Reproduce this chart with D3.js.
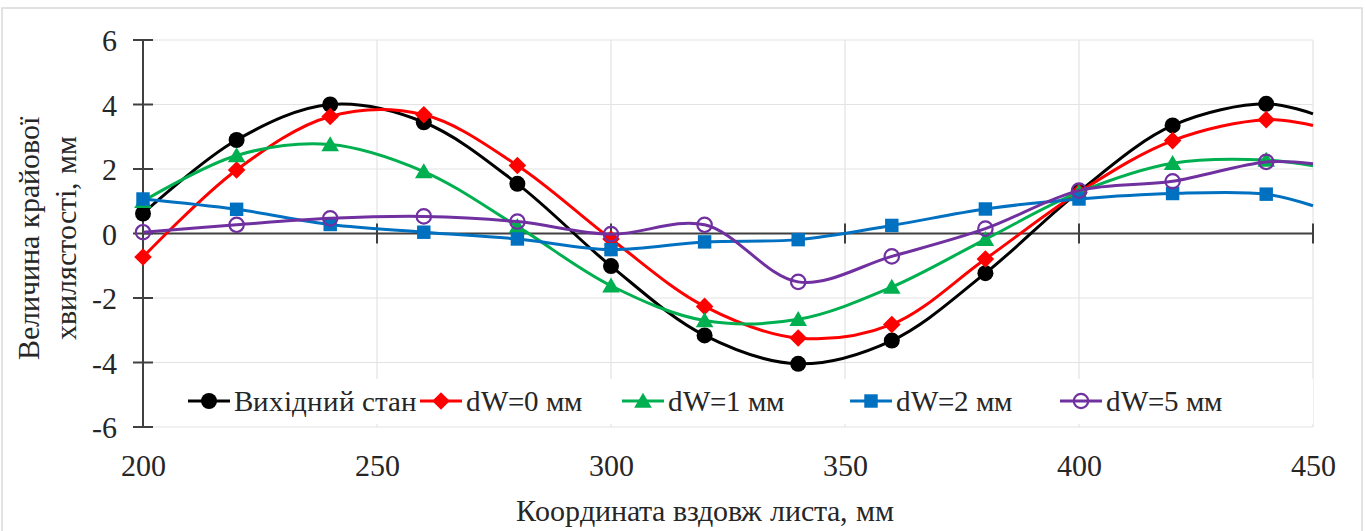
<!DOCTYPE html>
<html>
<head>
<meta charset="utf-8">
<script src="https://cdn.jsdelivr.net/npm/d3@7"></script>
<style>
  @font-face {
    font-family: "ChartSerif";
    src: local("Liberation Serif"), local("LiberationSerif"), local("LiberationSerif-Regular");
  }
  html, body { margin: 0; padding: 0; background: #fff; }
  svg { display: block; }
</style>
</head>
<body>
<svg id="chart" width="1366" height="531"></svg>
<script>
// Positions along the sheet (mm)
const coords = [200, 220, 240, 260, 280, 300, 320, 340, 360, 380, 400, 420, 440, 450];

// Edge waviness for each case (mm)
const initialState = [0.62, 2.90, 4.00, 3.45, 1.54, -1.01, -3.16, -4.04, -3.32, -1.23, 1.30, 3.35, 4.02, 3.71];
const dW0 = [-0.73, 1.97, 3.63, 3.68, 2.11, -0.17, -2.26, -3.24, -2.82, -0.79, 1.28, 2.88, 3.53, 3.35];
const dW1 = [1.00, 2.42, 2.76, 1.92, 0.22, -1.62, -2.70, -2.66, -1.66, -0.18, 1.28, 2.18, 2.28, 2.10];
const dW2 = [1.07, 0.75, 0.28, 0.04, -0.17, -0.50, -0.26, -0.19, 0.25, 0.76, 1.07, 1.24, 1.22, 0.86];
const dW5 = [0.04, 0.27, 0.47, 0.53, 0.37, -0.02, 0.27, -1.50, -0.71, 0.15, 1.33, 1.62, 2.22, 2.16];

const seriesNames = ["Вихідний стан", "dW=0 мм", "dW=1 мм", "dW=2 мм", "dW=5 мм"];
const seriesColors = ["#000000", "#ff0000", "#00b050", "#0070c0", "#7030a0"];
const seriesMarkers = ["circle", "diamond", "triangle", "square", "ring"];
const seriesValues = [initialState, dW0, dW1, dW2, dW5];

const xTicks = [200, 250, 300, 350, 400, 450];
const yTicks = [-6, -4, -2, 0, 2, 4, 6];

const xTitle = "Координата вздовж листа, мм";
const yTitleLines = ["Величина крайової", "хвилястості, мм"];

const FONT = "ChartSerif, 'Liberation Serif', serif";
const TEXT_COLOR = "#262626";

const svg = d3.select("#chart");
const plot = { left: 143, right: 1313, top: 40, bottom: 427 };

const x = d3.scaleLinear().domain([200, 450]).range([plot.left, plot.right]);
const y = d3.scaleLinear().domain([-6, 6]).range([plot.bottom, plot.top]);

function styleText(sel, size) {
  return sel.attr("font-family", FONT).attr("font-size", size).attr("fill", TEXT_COLOR);
}

// outer chart frame
svg.append("rect")
  .attr("x", 2).attr("y", 8).attr("width", 1360).attr("height", 600)
  .attr("fill", "#fff").attr("stroke", "#d9d9d9").attr("stroke-width", 1.5);

// gridlines
const grid = svg.append("g");
grid.selectAll(".gy").data(yTicks.filter(d => d !== 0)).join("line")
  .attr("x1", plot.left).attr("x2", plot.right)
  .attr("y1", d => y(d)).attr("y2", d => y(d))
  .attr("stroke", "#e3e3e3").attr("stroke-width", 1.2);
grid.selectAll(".gx").data(xTicks.filter(d => d !== 200)).join("line")
  .attr("x1", d => x(d)).attr("x2", d => x(d))
  .attr("y1", plot.top).attr("y2", plot.bottom)
  .attr("stroke", "#e3e3e3").attr("stroke-width", 1.2);

// y axis at x = 200 with ticks crossing the line
const yAxis = d3.axisLeft(y).tickValues(yTicks).tickSize(0).tickFormat(d => String(d));
const yAxisG = svg.append("g").attr("transform", `translate(${x(200)},0)`).call(yAxis);
yAxisG.attr("font-family", FONT).attr("font-size", 30);
yAxisG.select(".domain").remove();
styleText(yAxisG.selectAll(".tick text").attr("x", -26).attr("dy", "0.35em"), 30);
svg.append("line").attr("x1", x(200)).attr("x2", x(200)).attr("y1", plot.top).attr("y2", plot.bottom)
  .attr("stroke", "#404040").attr("stroke-width", 2);
svg.selectAll(".ytick").data(yTicks).join("line")
  .attr("x1", x(200) - 10).attr("x2", x(200) + 10)
  .attr("y1", d => y(d)).attr("y2", d => y(d))
  .attr("stroke", "#404040").attr("stroke-width", 2);

// x axis line at y = 0, labels below the plot
svg.append("line").attr("x1", plot.left).attr("x2", plot.right).attr("y1", y(0)).attr("y2", y(0))
  .attr("stroke", "#404040").attr("stroke-width", 2);
svg.selectAll(".xtick").data(xTicks).join("line")
  .attr("x1", d => x(d)).attr("x2", d => x(d))
  .attr("y1", y(0) - 10).attr("y2", y(0) + 10)
  .attr("stroke", "#404040").attr("stroke-width", 2);
const xAxis = d3.axisBottom(x).tickValues(xTicks).tickSize(0).tickFormat(d => String(d));
const xAxisG = svg.append("g").attr("transform", `translate(0,${plot.bottom})`).call(xAxis);
xAxisG.attr("font-family", FONT).attr("font-size", 30);
xAxisG.select(".domain").remove();
styleText(xAxisG.selectAll(".tick text").attr("y", 38).attr("dy", "0.35em"), 30);

// axis titles
styleText(svg.append("text").attr("x", 705).attr("y", 521).attr("text-anchor", "middle"), 30).text(xTitle);
const yt = svg.append("g").attr("transform", "translate(0,238) rotate(-90)");
styleText(yt.selectAll("text").data(yTitleLines).join("text")
  .attr("x", 0).attr("y", (d, i) => 39 + i * 37)
  .attr("text-anchor", "middle"), 30).text(d => d);

// marker drawing
function drawMarker(g, type, color, size) {
  const s = size;
  if (type === "circle") {
    g.append("circle").attr("r", s * 0.5).attr("fill", color);
  } else if (type === "diamond") {
    g.append("path").attr("d", `M0,${-s*0.55}L${s*0.55},0L0,${s*0.55}L${-s*0.55},0Z`).attr("fill", color);
  } else if (type === "triangle") {
    g.append("path").attr("d", `M0,${-s*0.52}L${s*0.55},${s*0.42}L${-s*0.55},${s*0.42}Z`).attr("fill", color);
  } else if (type === "square") {
    g.append("rect").attr("x", -s*0.42).attr("y", -s*0.42).attr("width", s*0.84).attr("height", s*0.84).attr("fill", color);
  } else if (type === "ring") {
    g.append("circle").attr("r", s * 0.45).attr("fill", "none").attr("stroke", color).attr("stroke-width", 2.2);
  }
}

// series lines and markers
const line = d3.line().x(d => x(d[0])).y(d => y(d[1])).curve(d3.curveCatmullRom.alpha(0.5));
seriesValues.forEach((vals, i) => {
  const pts = coords.map((c, j) => [c, vals[j]]);
  const g = svg.append("g");
  g.append("path").attr("d", line(pts)).attr("fill", "none")
    .attr("stroke", seriesColors[i]).attr("stroke-width", 3);
  pts.filter(p => p[0] < 450).forEach(p => {
    const m = g.append("g").attr("transform", `translate(${x(p[0])},${y(p[1])})`);
    drawMarker(m, seriesMarkers[i], seriesColors[i], 16);
  });
});

// legend
const legendY = 401;
svg.append("rect").attr("x", 168).attr("y", 379).attr("width", plot.right - 168).attr("height", 45)
  .attr("fill", "#fff");
const legendStarts = [188, 420, 622, 850, 1060];
seriesNames.forEach((name, i) => {
  const lg = svg.append("g").attr("transform", `translate(${legendStarts[i]},${legendY})`);
  lg.append("line").attr("x1", 0).attr("x2", 42).attr("y1", 0).attr("y2", 0)
    .attr("stroke", seriesColors[i]).attr("stroke-width", 3);
  const m = lg.append("g").attr("transform", "translate(21,0)");
  drawMarker(m, seriesMarkers[i], seriesColors[i], 16);
  styleText(lg.append("text").attr("x", 46).attr("y", 0).attr("dy", "0.35em"), 29).text(name);
});
</script>
</body>
</html>
